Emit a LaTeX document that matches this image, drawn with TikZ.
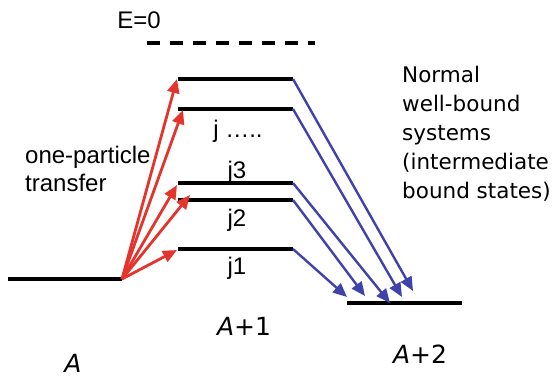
\documentclass[tikz,border=0pt]{standalone}
\usepackage{fontspec}
\setmainfont{Liberation Sans}
\newfontfamily\comicfont{DejaVu Sans}
\usetikzlibrary{arrows.meta,positioning}
\definecolor{trn}{RGB}{228,52,44}
\definecolor{dcy}{RGB}{62,66,170}

\begin{document}
\begin{tikzpicture}[x=1pt,y=-1pt]
  \useasboundingbox (0,0) rectangle (559,378);
  \tikzset{lvl/.style={line width=3.2pt},
    up/.style={trn,line width=2.8pt,-{Triangle[length=14pt,width=12pt]}},
    down/.style={dcy,line width=2.4pt,-{Triangle[length=14pt,width=12pt]}},
    lab/.style={font=\fontsize{24}{26}\selectfont},
    mass/.style={font=\comicfont\fontsize{25}{27}\selectfont}}
  % levels
  \coordinate (A0) at (8,279); \coordinate (A1) at (122,279);
  \draw[lvl] (A0) -- (A1);
  \foreach \n/\y in {t/79,d/109,c/183,b/200,a/249} {
    \coordinate (L\n) at (178,\y); \coordinate (R\n) at (293,\y);
    \draw[lvl] (L\n) -- (R\n);
  }
  \coordinate (B0) at (347,303); \coordinate (B1) at (462,303);
  \draw[lvl] (B0) -- (B1);
  \draw[line width=3.2pt,dash pattern=on 13pt off 10pt] (147,43) -- (315,43);
  % one-particle transfer
  \foreach \n/\x/\y in {t/177/79,d/183/110,c/177/185,b/190/195,a/177/250} {
    \coordinate (u\n) at (\x,\y);
    \draw[up] (A1) -- (u\n);
  }
  % decay to A+2
  \foreach \n/\x/\y in {t/413/291,d/402/297,c/390/303,b/365/296,a/347/297} {
    \coordinate (v\n) at (\x,\y);
    \draw[down] (R\n) -- (v\n);
  }
  % labels
  \node[lab] (e0) at (139,20) {E=0};
  \node[lab,font=\fontsize{24}{28}\selectfont,align=left,anchor=west,inner sep=0pt] (opt) at (25,169) {one-particle\\transfer};
  \node[lab] (jx) at (238,131) {j …..};
  \node[lab] (j3) at (237,172) {j3};
  \node[lab] (j2) at (237,220) {j2};
  \node[lab] (j1) at (237,268) {j1};
  \node[font=\comicfont\fontsize{21.5}{29}\selectfont,align=left,anchor=north west,inner sep=0pt] (nwb) at (402,66) {Normal\\well-bound\\systems\\(intermediate\\bound states)};
  \node[mass] (nA) at (73,363) {\itshape A};
  \node[mass] (nA1) at (244,326) {{\itshape A}+1};
  \node[mass] (nA2) at (420,354) {{\itshape A}+2};
\end{tikzpicture}
\end{document}
